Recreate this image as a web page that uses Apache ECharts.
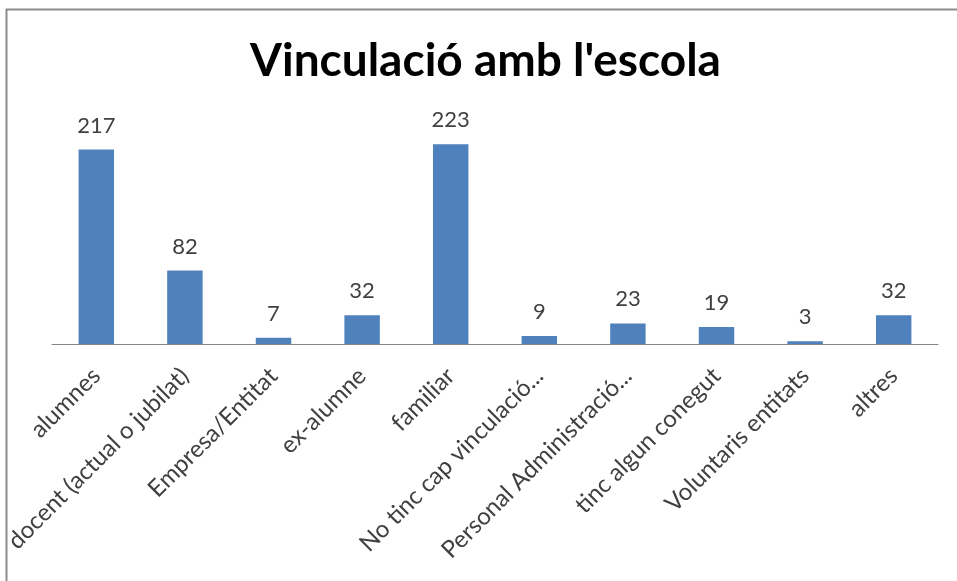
<!DOCTYPE html>
<html><head><meta charset="utf-8">
<script src="https://cdn.jsdelivr.net/npm/echarts@6/dist/echarts.min.js"></script>
<style>html,body{margin:0;padding:0;background:#fff}#c{width:957px;height:581px}</style>
</head><body><div id="c"></div>
<script>
const titleText = "Vinculació amb l'escola";
const categories = ["alumnes","docent (actual o jubilat)","Empresa/Entitat","ex-alumne","familiar","No tinc cap vinculació...","Personal Administració...","tinc algun conegut","Voluntaris entitats","altres"];
const values = [217, 82, 7, 32, 223, 9, 23, 19, 3, 32];

const chart = echarts.init(document.getElementById('c'), null, {renderer:'canvas'});
chart.setOption({
  animation:false,
  backgroundColor:'#fff',
  title:{text:titleText, left:245, top:33, textStyle:{fontFamily:'Lato', fontWeight:'bold', fontSize:46, color:'#000'}},
  graphic:[{type:'rect', shape:{x:6.5, y:9.5, width:1200, height:1200}, style:{fill:'none', stroke:'#8c8c8c', lineWidth:2}, silent:true}],
  grid:{left:52, right:19, top:120, bottom:237, containLabel:false},
  xAxis:{type:'category', data:categories,
    axisLine:{lineStyle:{color:'#868686', width:1}}, axisTick:{show:false},
    axisLabel:{rotate:45, interval:0, margin:28, fontFamily:'Lato', fontSize:24, color:'#404040'}},
  yAxis:{type:'value', min:0, max:250, show:false, splitLine:{show:false}},
  series:[{type:'bar', data:values, barWidth:'40%', itemStyle:{color:'#4F81BD'},
    label:{show:true, position:'top', distance:13, fontFamily:'Lato', fontSize:22, color:'#404040'}}]
});
</script></body></html>
